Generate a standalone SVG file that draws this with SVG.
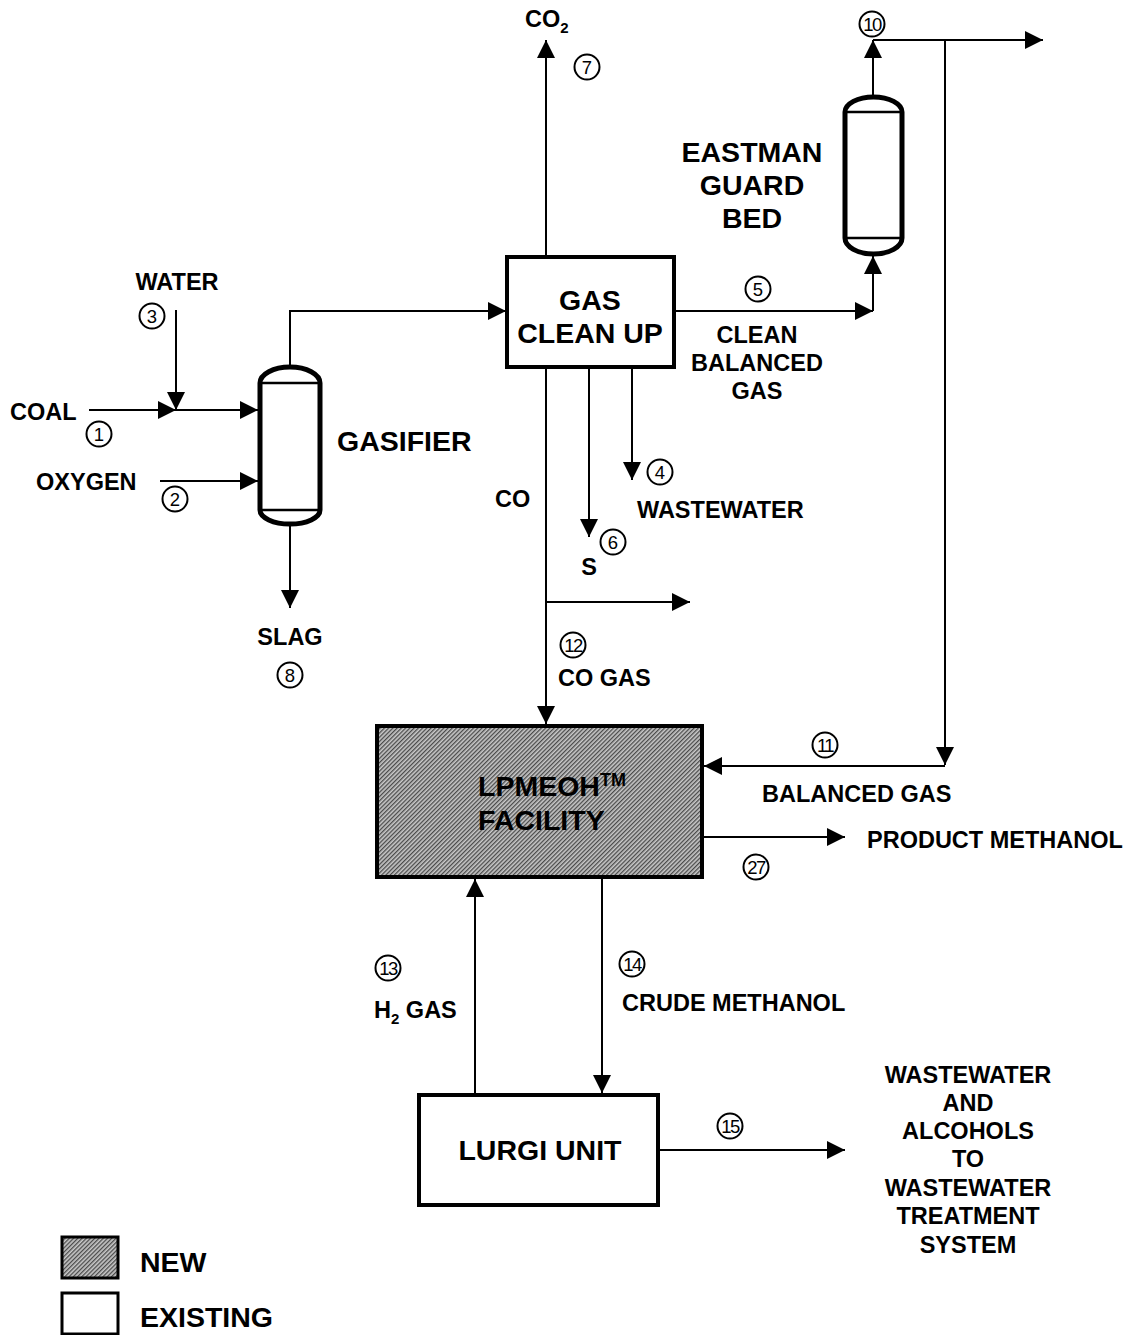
<svg xmlns="http://www.w3.org/2000/svg" width="1132" height="1335" viewBox="0 0 1132 1335">
<style>
.ln{fill:none;stroke:#000;stroke-width:2;marker-end:url(#arr)}
.box{fill:#fff;stroke:#000;stroke-width:4}
.ves{fill:#fff;stroke:#000;stroke-width:5;stroke-linejoin:round}
.vl{stroke:#000;stroke-width:2.5}
.big{font-family:"Liberation Sans",Arial,sans-serif;font-weight:bold;font-size:28.5px;fill:#000}
.sm{font-family:"Liberation Sans",Arial,sans-serif;font-weight:bold;font-size:23.5px;fill:#000}
.num circle{fill:#fff;stroke:#000;stroke-width:2}
.num text{font-family:"Liberation Sans",Arial,sans-serif;font-size:18.5px;fill:#000;text-anchor:middle}
.c{text-anchor:middle}
</style>
<defs>
<marker id="arr" viewBox="0 0 18 18" refX="18" refY="9" markerWidth="18" markerHeight="18" markerUnits="userSpaceOnUse" orient="auto"><path d="M0,0 L18,9 L0,18 Z" fill="#000"/></marker>
<pattern id="hatch" width="3" height="3" patternUnits="userSpaceOnUse" patternTransform="rotate(-45)">
<rect width="3" height="3" fill="#c8c8c8"/>
<rect width="3" height="1.3" fill="#4a4a4a"/>
</pattern>
</defs>
<rect width="1132" height="1335" fill="#fff"/>

<g id="connectors">
<path class="ln" d="M89,410 L176,410"/>
<path class="ln" d="M176,410 L258,410"/>
<path class="ln" d="M176,310 L176,410"/>
<path class="ln" d="M160,481 L258,481"/>
<path class="ln" d="M290,367 L290,311 L506,311"/>
<path class="ln" d="M290,523 L290,608"/>
<path class="ln" d="M546,257 L546,40"/>
<path class="ln" d="M674,311 L873,311"/>
<path class="ln" d="M873,311 L873,256"/>
<path class="ln" d="M873,97 L873,40"/>
<path class="ln" d="M873,40 L1043,40"/>
<path class="ln" d="M945,40 L945,765"/>
<path class="ln" d="M945,766 L704,766"/>
<path class="ln" d="M589,367 L589,537"/>
<path class="ln" d="M632,367 L632,480"/>
<path class="ln" d="M546,367 L546,724"/>
<path class="ln" d="M546,602 L690,602"/>
<path class="ln" d="M702,837 L845,837"/>
<path class="ln" d="M475,1095 L475,879"/>
<path class="ln" d="M602,877 L602,1093"/>
<path class="ln" d="M658,1150 L845,1150"/>
</g>

<g id="gasifier">
<path class="ves" d="M260,383 A30,16 0 0 1 320,383 L320,510 A30,14 0 0 1 260,510 Z"/>
<line class="vl" x1="260" y1="383" x2="320" y2="383"/>
<line class="vl" x1="260" y1="510" x2="320" y2="510"/>
<text class="big" x="337" y="451">GASIFIER</text>
</g>

<g id="gas-clean-up">
<rect class="box" x="507" y="257" width="167" height="110" stroke-width="3.5"/>
<text class="big c" x="590" y="310">GAS</text>
<text class="big c" x="590" y="343">CLEAN UP</text>
</g>

<g id="guard-bed">
<path class="ves" d="M845,112 A28.5,15 0 0 1 902,112 L902,238 A28.5,16 0 0 1 845,238 Z"/>
<line class="vl" x1="845" y1="112" x2="902" y2="112"/>
<line class="vl" x1="845" y1="238" x2="902" y2="238"/>
<text class="big c" x="752" y="162">EASTMAN</text>
<text class="big c" x="752" y="195">GUARD</text>
<text class="big c" x="752" y="228">BED</text>
</g>

<g id="lpmeoh">
<rect x="377" y="726" width="325" height="151" fill="url(#hatch)" stroke="#000" stroke-width="4"/>
<text class="big" x="478" y="796" font-size="29.5" fill="#111">LPMEOH<tspan font-size="18" dy="-10">TM</tspan></text>
<text class="big" x="478" y="830" font-size="29.5" fill="#111">FACILITY</text>
</g>

<g id="lurgi">
<rect class="box" x="419" y="1095" width="239" height="110"/>
<text class="big c" x="540" y="1160">LURGI UNIT</text>
</g>

<g id="labels">
<text class="sm" x="10" y="420">COAL</text>
<text class="sm c" x="177" y="290">WATER</text>
<text class="sm" x="36" y="490">OXYGEN</text>
<text class="sm c" x="290" y="645">SLAG</text>
<text class="sm" x="525" y="27" font-size="21">CO<tspan font-size="15" dy="6">2</tspan></text>
<text class="sm c" x="757" y="343">CLEAN</text>
<text class="sm c" x="757" y="371">BALANCED</text>
<text class="sm c" x="757" y="399">GAS</text>
<text class="sm" x="495" y="507">CO</text>
<text class="sm" x="637" y="518">WASTEWATER</text>
<text class="sm c" x="589" y="575">S</text>
<text class="sm" x="558" y="686">CO GAS</text>
<text class="sm" x="762" y="802">BALANCED GAS</text>
<text class="sm" x="867" y="848">PRODUCT METHANOL</text>
<text class="sm" x="374" y="1018">H<tspan font-size="15" dy="6">2</tspan><tspan dy="-6"> GAS</tspan></text>
<text class="sm" x="622" y="1011">CRUDE METHANOL</text>
<text class="sm c" x="968" y="1083">WASTEWATER</text>
<text class="sm c" x="968" y="1111">AND</text>
<text class="sm c" x="968" y="1139">ALCOHOLS</text>
<text class="sm c" x="968" y="1167">TO</text>
<text class="sm c" x="968" y="1196">WASTEWATER</text>
<text class="sm c" x="968" y="1224">TREATMENT</text>
<text class="sm c" x="968" y="1253">SYSTEM</text>
</g>

<g id="stream-numbers" class="num">
<g><circle cx="99" cy="434" r="12.5"/><text x="99" y="440.5">1</text></g>
<g><circle cx="175" cy="499" r="12.5"/><text x="175" y="505.5">2</text></g>
<g><circle cx="152" cy="316" r="12.5"/><text x="152" y="322.5">3</text></g>
<g><circle cx="660" cy="472" r="12.5"/><text x="660" y="478.5">4</text></g>
<g><circle cx="758" cy="289" r="12.5"/><text x="758" y="295.5">5</text></g>
<g><circle cx="613" cy="542" r="12.5"/><text x="613" y="548.5">6</text></g>
<g><circle cx="587" cy="67" r="12.5"/><text x="587" y="73.5">7</text></g>
<g><circle cx="290" cy="675" r="12.5"/><text x="290" y="681.5">8</text></g>
<g><circle cx="872" cy="24" r="12.5"/><text x="872" y="30.5" letter-spacing="-1.5">10</text></g>
<g><circle cx="825" cy="745" r="12.5"/><text x="825" y="751.5" letter-spacing="-1.5">11</text></g>
<g><circle cx="573" cy="645" r="12.5"/><text x="573" y="651.5" letter-spacing="-1.5">12</text></g>
<g><circle cx="388" cy="968" r="12.5"/><text x="388" y="974.5" letter-spacing="-1.5">13</text></g>
<g><circle cx="632" cy="964" r="12.5"/><text x="632" y="970.5" letter-spacing="-1.5">14</text></g>
<g><circle cx="730" cy="1126" r="12.5"/><text x="730" y="1132.5" letter-spacing="-1.5">15</text></g>
<g><circle cx="756" cy="867" r="12.5"/><text x="756" y="873.5" letter-spacing="-1.5">27</text></g>
</g>

<g id="legend">
<rect x="62" y="1237" width="56" height="41" fill="url(#hatch)" stroke="#000" stroke-width="3"/>
<text class="big" x="140" y="1272">NEW</text>
<rect x="62" y="1293" width="56" height="41" fill="#fff" stroke="#000" stroke-width="3"/>
<text class="big" x="140" y="1327">EXISTING</text>
</g>
</svg>
